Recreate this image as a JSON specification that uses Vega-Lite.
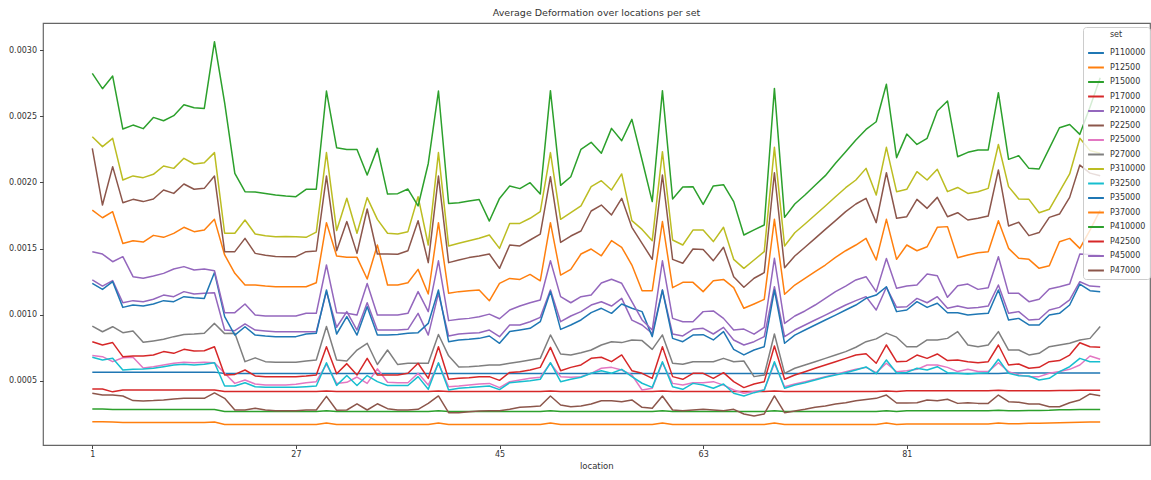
{
"$schema":"https://vega.github.io/schema/vega-lite/v6.json",
"width":1107,"height":422,
"autosize":{"type":"none"},
"padding":{"left":43,"top":23,"right":1,"bottom":35},
"background":"white",
"config":{"font":"DejaVu Sans","view":{"stroke":"#666","strokeWidth":1.2}},
"title":{"text":"Average Deformation over locations per set","fontSize":9.5,"fontWeight":"normal","color":"#333","offset":6,"font":"DejaVu Sans"},
"data":{"values":[
{"location":"1","P110000":0.000567,"P12500":0.000193,"P15000":0.000288,"P17000":0.00044,"P210000":0.001263,"P22500":0.000407,"P25000":0.000692,"P27000":0.000915,"P310000":0.002345,"P32500":0.000679,"P35000":0.001238,"P37000":0.001791,"P410000":0.002824,"P42500":0.000797,"P45000":0.001476,"P47000":0.002257},
{"location":"10","P110000":0.000567,"P12500":0.000192,"P15000":0.000288,"P17000":0.00044,"P210000":0.001217,"P22500":0.000394,"P25000":0.000684,"P27000":0.000872,"P310000":0.00227,"P32500":0.000659,"P35000":0.001192,"P37000":0.001733,"P410000":0.002708,"P42500":0.000772,"P45000":0.001459,"P47000":0.001829},
{"location":"100","P110000":0.000567,"P12500":0.00019,"P15000":0.000284,"P17000":0.000418,"P210000":0.001258,"P22500":0.000394,"P25000":0.000646,"P27000":0.00091,"P310000":0.002333,"P32500":0.000671,"P35000":0.00125,"P37000":0.001779,"P410000":0.002803,"P42500":0.00079,"P45000":0.001401,"P47000":0.002119},
{"location":"11","P110000":0.000567,"P12500":0.000187,"P15000":0.000284,"P17000":0.000432,"P210000":0.001091,"P22500":0.000387,"P25000":0.000676,"P27000":0.000865,"P310000":0.002018,"P32500":0.000583,"P35000":0.001056,"P37000":0.001539,"P410000":0.002403,"P42500":0.000684,"P45000":0.001439,"P47000":0.001847},
{"location":"12","P110000":0.000567,"P12500":0.000187,"P15000":0.000284,"P17000":0.000432,"P210000":0.001107,"P22500":0.000352,"P25000":0.00068,"P27000":0.000878,"P310000":0.002049,"P32500":0.000588,"P35000":0.001074,"P37000":0.001559,"P410000":0.002433,"P42500":0.000689,"P45000":0.001288,"P47000":0.001872},
{"location":"13","P110000":0.000567,"P12500":0.000187,"P15000":0.000284,"P17000":0.000432,"P210000":0.001099,"P22500":0.000349,"P25000":0.000598,"P27000":0.000792,"P310000":0.002036,"P32500":0.00059,"P35000":0.001066,"P37000":0.001549,"P410000":0.002406,"P42500":0.000689,"P45000":0.001276,"P47000":0.001855},
{"location":"14","P110000":0.000567,"P12500":0.000187,"P15000":0.000284,"P17000":0.000432,"P210000":0.001117,"P22500":0.000352,"P25000":0.000608,"P27000":0.000803,"P310000":0.002061,"P32500":0.000596,"P35000":0.001082,"P37000":0.0016,"P410000":0.002491,"P42500":0.000697,"P45000":0.001293,"P47000":0.001875},
{"location":"15","P110000":0.000567,"P12500":0.000187,"P15000":0.000284,"P17000":0.000432,"P210000":0.001149,"P22500":0.000357,"P25000":0.000621,"P27000":0.000815,"P310000":0.002124,"P32500":0.000608,"P35000":0.001107,"P37000":0.001585,"P410000":0.002466,"P42500":0.000722,"P45000":0.001313,"P47000":0.001943},
{"location":"16","P110000":0.000567,"P12500":0.000187,"P15000":0.000284,"P17000":0.000432,"P210000":0.001137,"P22500":0.000364,"P25000":0.000634,"P27000":0.000835,"P310000":0.002106,"P32500":0.000621,"P35000":0.001099,"P37000":0.001615,"P410000":0.002504,"P42500":0.000709,"P45000":0.001346,"P47000":0.001917},
{"location":"17","P110000":0.000567,"P12500":0.000187,"P15000":0.000284,"P17000":0.000432,"P210000":0.001175,"P22500":0.000369,"P25000":0.000641,"P27000":0.000852,"P310000":0.002182,"P32500":0.000626,"P35000":0.001137,"P37000":0.001661,"P410000":0.002587,"P42500":0.000739,"P45000":0.001364,"P47000":0.001988},
{"location":"18","P110000":0.000567,"P12500":0.000187,"P15000":0.000284,"P17000":0.000432,"P210000":0.001157,"P22500":0.000369,"P25000":0.000638,"P27000":0.000855,"P310000":0.002139,"P32500":0.000621,"P35000":0.001129,"P37000":0.001628,"P410000":0.002564,"P42500":0.000727,"P45000":0.001338,"P47000":0.001948},
{"location":"19","P110000":0.000567,"P12500":0.000187,"P15000":0.000284,"P17000":0.000432,"P210000":0.001162,"P22500":0.000369,"P25000":0.000641,"P27000":0.00086,"P310000":0.002149,"P32500":0.000626,"P35000":0.001124,"P37000":0.00164,"P410000":0.002559,"P42500":0.000729,"P45000":0.001346,"P47000":0.001955},
{"location":"2","P110000":0.000567,"P12500":0.00019,"P15000":0.000284,"P17000":0.000432,"P210000":0.001167,"P22500":0.00041,"P25000":0.000638,"P27000":0.000935,"P310000":0.002225,"P32500":0.000638,"P35000":0.00132,"P37000":0.001721,"P410000":0.003063,"P42500":0.000759,"P45000":0.001333,"P47000":0.002048},
{"location":"20","P110000":0.000557,"P12500":0.000172,"P15000":0.00027,"P17000":0.00042,"P210000":0.000885,"P22500":0.000369,"P25000":0.000558,"P27000":0.000858,"P310000":0.001616,"P32500":0.000462,"P35000":0.000986,"P37000":0.001452,"P410000":0.0026,"P42500":0.000545,"P45000":0.001016,"P47000":0.001477},
{"location":"21","P110000":0.000557,"P12500":0.000172,"P15000":0.00027,"P17000":0.00042,"P210000":0.00088,"P22500":0.000281,"P25000":0.000482,"P27000":0.00086,"P310000":0.001616,"P32500":0.000462,"P35000":0.000847,"P37000":0.001313,"P410000":0.002068,"P42500":0.00055,"P45000":0.001016,"P47000":0.001477},
{"location":"22","P110000":0.000557,"P12500":0.000172,"P15000":0.00027,"P17000":0.00042,"P210000":0.000931,"P22500":0.000281,"P25000":0.000508,"P27000":0.000646,"P310000":0.001716,"P32500":0.000487,"P35000":0.00091,"P37000":0.001225,"P410000":0.00193,"P42500":0.000583,"P45000":0.001082,"P47000":0.001577},
{"location":"23","P110000":0.000557,"P12500":0.000172,"P15000":0.00027,"P17000":0.00042,"P210000":0.000885,"P22500":0.000294,"P25000":0.000477,"P27000":0.000675,"P310000":0.00161,"P32500":0.000457,"P35000":0.000847,"P37000":0.001225,"P410000":0.001928,"P42500":0.000538,"P45000":0.000998,"P47000":0.001464},
{"location":"24","P110000":0.000557,"P12500":0.000172,"P15000":0.00027,"P17000":0.00042,"P210000":0.000878,"P22500":0.000281,"P25000":0.000469,"P27000":0.000646,"P310000":0.001597,"P32500":0.000452,"P35000":0.00084,"P37000":0.001217,"P410000":0.001917,"P42500":0.000533,"P45000":0.000991,"P47000":0.001449},
{"location":"25","P110000":0.000557,"P12500":0.000172,"P15000":0.00027,"P17000":0.00042,"P210000":0.000872,"P22500":0.000276,"P25000":0.000469,"P27000":0.000641,"P310000":0.00159,"P32500":0.000452,"P35000":0.000835,"P37000":0.001212,"P410000":0.001905,"P42500":0.000533,"P45000":0.000991,"P47000":0.001441},
{"location":"26","P110000":0.000557,"P12500":0.000172,"P15000":0.00027,"P17000":0.00042,"P210000":0.000872,"P22500":0.000276,"P25000":0.000469,"P27000":0.000641,"P310000":0.001592,"P32500":0.000452,"P35000":0.000835,"P37000":0.001212,"P410000":0.001897,"P42500":0.000533,"P45000":0.000991,"P47000":0.001439},
{"location":"27","P110000":0.000557,"P12500":0.000172,"P15000":0.00027,"P17000":0.00042,"P210000":0.000872,"P22500":0.000276,"P25000":0.000475,"P27000":0.000641,"P310000":0.00159,"P32500":0.000452,"P35000":0.000835,"P37000":0.001212,"P410000":0.001892,"P42500":0.000533,"P45000":0.000991,"P47000":0.001439},
{"location":"28","P110000":0.000557,"P12500":0.000172,"P15000":0.00027,"P17000":0.00042,"P210000":0.000872,"P22500":0.000281,"P25000":0.000487,"P27000":0.000651,"P310000":0.001585,"P32500":0.000457,"P35000":0.000855,"P37000":0.001212,"P410000":0.001948,"P42500":0.000538,"P45000":0.001011,"P47000":0.001477},
{"location":"29","P110000":0.000557,"P12500":0.000172,"P15000":0.00027,"P17000":0.00042,"P210000":0.000872,"P22500":0.000281,"P25000":0.000495,"P27000":0.000659,"P310000":0.001625,"P32500":0.000462,"P35000":0.00086,"P37000":0.001242,"P410000":0.001948,"P42500":0.000545,"P45000":0.001011,"P47000":0.001482},
{"location":"3","P110000":0.000557,"P12500":0.000182,"P15000":0.000275,"P17000":0.000425,"P210000":0.001175,"P22500":0.000384,"P25000":0.000628,"P27000":0.000912,"P310000":0.002225,"P32500":0.000638,"P35000":0.001187,"P37000":0.001696,"P410000":0.00269,"P42500":0.000759,"P45000":0.001376,"P47000":0.002048},
{"location":"30","P110000":0.000557,"P12500":0.000172,"P15000":0.00027,"P17000":0.00042,"P210000":0.000906,"P22500":0.000279,"P25000":0.000482,"P27000":0.000659,"P310000":0.001636,"P32500":0.000467,"P35000":0.000855,"P37000":0.001444,"P410000":0.002262,"P42500":0.000555,"P45000":0.001016,"P47000":0.001484},
{"location":"31","P110000":0.000557,"P12500":0.000172,"P15000":0.00027,"P17000":0.00042,"P210000":0.001024,"P22500":0.000281,"P25000":0.00049,"P27000":0.000651,"P310000":0.00188,"P32500":0.000541,"P35000":0.000986,"P37000":0.001434,"P410000":0.002249,"P42500":0.000631,"P45000":0.001011,"P47000":0.001704},
{"location":"32","P110000":0.000557,"P12500":0.000172,"P15000":0.00027,"P17000":0.00042,"P210000":0.000885,"P22500":0.000328,"P25000":0.00053,"P27000":0.000734,"P310000":0.001616,"P32500":0.000466,"P35000":0.000847,"P37000":0.001434,"P410000":0.002249,"P42500":0.000545,"P45000":0.000998,"P47000":0.001464},
{"location":"33","P110000":0.000557,"P12500":0.000172,"P15000":0.00027,"P17000":0.00042,"P210000":0.001091,"P22500":0.000281,"P25000":0.000482,"P27000":0.000785,"P310000":0.001885,"P32500":0.000541,"P35000":0.001061,"P37000":0.00127,"P410000":0.002056,"P42500":0.000671,"P45000":0.001237,"P47000":0.001799},
{"location":"34","P110000":0.000557,"P12500":0.000172,"P15000":0.00027,"P17000":0.00042,"P210000":0.000885,"P22500":0.000328,"P25000":0.000592,"P27000":0.000625,"P310000":0.001721,"P32500":0.000495,"P35000":0.000847,"P37000":0.001527,"P410000":0.002257,"P42500":0.000545,"P45000":0.000998,"P47000":0.001459},
{"location":"35","P110000":0.000557,"P12500":0.000172,"P15000":0.00027,"P17000":0.00042,"P210000":0.000885,"P22500":0.000291,"P25000":0.00049,"P27000":0.000734,"P310000":0.001616,"P32500":0.000466,"P35000":0.000847,"P37000":0.001225,"P410000":0.001912,"P42500":0.000545,"P45000":0.000998,"P47000":0.001459},
{"location":"36","P110000":0.000557,"P12500":0.000172,"P15000":0.00027,"P17000":0.00042,"P210000":0.000885,"P22500":0.000281,"P25000":0.000487,"P27000":0.000624,"P310000":0.00161,"P32500":0.000466,"P35000":0.000852,"P37000":0.001225,"P410000":0.001915,"P42500":0.000545,"P45000":0.000998,"P47000":0.001457},
{"location":"37","P110000":0.000557,"P12500":0.000172,"P15000":0.00027,"P17000":0.00042,"P210000":0.00089,"P22500":0.000281,"P25000":0.000487,"P27000":0.000634,"P310000":0.001628,"P32500":0.000466,"P35000":0.00086,"P37000":0.001242,"P410000":0.00195,"P42500":0.000558,"P45000":0.001011,"P47000":0.001484},
{"location":"38","P110000":0.000557,"P12500":0.000172,"P15000":0.00027,"P17000":0.00042,"P210000":0.001011,"P22500":0.000286,"P25000":0.000558,"P27000":0.000634,"P310000":0.001892,"P32500":0.000533,"P35000":0.000865,"P37000":0.001343,"P410000":0.001822,"P42500":0.000634,"P45000":0.001175,"P47000":0.001711},
{"location":"39","P110000":0.000557,"P12500":0.000172,"P15000":0.00027,"P17000":0.00042,"P210000":0.000847,"P22500":0.000331,"P25000":0.000469,"P27000":0.000634,"P310000":0.001527,"P32500":0.000437,"P35000":0.000935,"P37000":0.001157,"P410000":0.002143,"P42500":0.00052,"P45000":0.001024,"P47000":0.001394},
{"location":"4","P110000":0.000557,"P12500":0.000182,"P15000":0.000275,"P17000":0.000425,"P210000":0.001162,"P22500":0.000387,"P25000":0.000634,"P27000":0.000851,"P310000":0.002225,"P32500":0.000638,"P35000":0.001187,"P37000":0.001696,"P410000":0.00269,"P42500":0.000759,"P45000":0.001408,"P47000":0.002048},
{"location":"40","P110000":0.000557,"P12500":0.000172,"P15000":0.00027,"P17000":0.00042,"P210000":0.00084,"P22500":0.000261,"P25000":0.000457,"P27000":0.00069,"P310000":0.00152,"P32500":0.000432,"P35000":0.000797,"P37000":0.001162,"P410000":0.001841,"P42500":0.000513,"P45000":0.000956,"P47000":0.001394},
{"location":"41","P110000":0.000557,"P12500":0.000172,"P15000":0.00027,"P17000":0.00042,"P210000":0.000855,"P22500":0.000261,"P25000":0.000462,"P27000":0.000606,"P310000":0.00154,"P32500":0.000445,"P35000":0.00081,"P37000":0.001175,"P410000":0.001846,"P42500":0.00052,"P45000":0.000966,"P47000":0.001414},
{"location":"42","P110000":0.000557,"P12500":0.000172,"P15000":0.00027,"P17000":0.00042,"P210000":0.00086,"P22500":0.000268,"P25000":0.000469,"P27000":0.000608,"P310000":0.00156,"P32500":0.00045,"P35000":0.000815,"P37000":0.001182,"P410000":0.001859,"P42500":0.000525,"P45000":0.000973,"P47000":0.001432},
{"location":"43","P110000":0.000557,"P12500":0.000172,"P15000":0.00027,"P17000":0.00042,"P210000":0.000865,"P22500":0.000273,"P25000":0.000477,"P27000":0.000613,"P310000":0.001578,"P32500":0.000457,"P35000":0.000822,"P37000":0.001187,"P410000":0.001871,"P42500":0.000533,"P45000":0.000986,"P47000":0.001444},
{"location":"44","P110000":0.000557,"P12500":0.000172,"P15000":0.00027,"P17000":0.00042,"P210000":0.000885,"P22500":0.000276,"P25000":0.000482,"P27000":0.000621,"P310000":0.001603,"P32500":0.000462,"P35000":0.00084,"P37000":0.001106,"P410000":0.001708,"P42500":0.000533,"P45000":0.001005,"P47000":0.001459},
{"location":"45","P110000":0.000557,"P12500":0.000172,"P15000":0.00027,"P17000":0.00042,"P210000":0.000835,"P22500":0.000276,"P25000":0.00045,"P27000":0.000621,"P310000":0.001502,"P32500":0.000435,"P35000":0.000785,"P37000":0.001237,"P410000":0.001879,"P42500":0.000505,"P45000":0.00097,"P47000":0.001351},
{"location":"46","P110000":0.000557,"P12500":0.000172,"P15000":0.00027,"P17000":0.00042,"P210000":0.000923,"P22500":0.000286,"P25000":0.000495,"P27000":0.000634,"P310000":0.00169,"P32500":0.000487,"P35000":0.000873,"P37000":0.001275,"P410000":0.001973,"P42500":0.000565,"P45000":0.001036,"P47000":0.001527},
{"location":"47","P110000":0.000557,"P12500":0.000172,"P15000":0.00027,"P17000":0.00042,"P210000":0.000923,"P22500":0.000301,"P25000":0.000508,"P27000":0.000646,"P310000":0.00169,"P32500":0.000495,"P35000":0.000885,"P37000":0.001267,"P410000":0.001953,"P42500":0.00057,"P45000":0.001066,"P47000":0.00152},
{"location":"48","P110000":0.000557,"P12500":0.000172,"P15000":0.00027,"P17000":0.00042,"P210000":0.000948,"P22500":0.000306,"P25000":0.00052,"P27000":0.000659,"P310000":0.001729,"P32500":0.000502,"P35000":0.000898,"P37000":0.001305,"P410000":0.001998,"P42500":0.000583,"P45000":0.001091,"P47000":0.001565},
{"location":"49","P110000":0.000557,"P12500":0.000172,"P15000":0.00027,"P17000":0.00042,"P210000":0.000981,"P22500":0.000311,"P25000":0.000528,"P27000":0.000671,"P310000":0.001779,"P32500":0.000513,"P35000":0.000948,"P37000":0.001257,"P410000":0.001912,"P42500":0.000603,"P45000":0.001112,"P47000":0.00161},
{"location":"5","P110000":0.000557,"P12500":0.000182,"P15000":0.000275,"P17000":0.000425,"P210000":0.001187,"P22500":0.000387,"P25000":0.000634,"P27000":0.000848,"P310000":0.002225,"P32500":0.000638,"P35000":0.001175,"P37000":0.001696,"P410000":0.002693,"P42500":0.000754,"P45000":0.001408,"P47000":0.002043},
{"location":"50","P110000":0.000557,"P12500":0.000172,"P15000":0.00027,"P17000":0.00042,"P210000":0.000948,"P22500":0.000319,"P25000":0.000533,"P27000":0.000704,"P310000":0.001721,"P32500":0.000495,"P35000":0.00089,"P37000":0.0013,"P410000":0.001978,"P42500":0.000578,"P45000":0.001137,"P47000":0.001547},
{"location":"51","P110000":0.000557,"P12500":0.000172,"P15000":0.00027,"P17000":0.00042,"P210000":0.000991,"P22500":0.000306,"P25000":0.000528,"P27000":0.000697,"P310000":0.001771,"P32500":0.000513,"P35000":0.000923,"P37000":0.001343,"P410000":0.002043,"P42500":0.000603,"P45000":0.001091,"P47000":0.001595},
{"location":"52","P110000":0.000557,"P12500":0.000172,"P15000":0.00027,"P17000":0.00042,"P210000":0.001024,"P22500":0.000311,"P25000":0.000533,"P27000":0.000714,"P310000":0.001822,"P32500":0.000528,"P35000":0.000961,"P37000":0.001459,"P410000":0.00225,"P42500":0.000621,"P45000":0.001137,"P47000":0.001633},
{"location":"53","P110000":0.000557,"P12500":0.000172,"P15000":0.00027,"P17000":0.00042,"P210000":0.001074,"P22500":0.000326,"P25000":0.000558,"P27000":0.000734,"P310000":0.001968,"P32500":0.000558,"P35000":0.001016,"P37000":0.001497,"P410000":0.002303,"P42500":0.000671,"P45000":0.001149,"P47000":0.001784},
{"location":"54","P110000":0.000557,"P12500":0.000172,"P15000":0.00027,"P17000":0.00042,"P210000":0.001099,"P22500":0.000351,"P25000":0.000596,"P27000":0.000772,"P310000":0.002013,"P32500":0.000578,"P35000":0.001049,"P37000":0.001446,"P410000":0.00222,"P42500":0.000679,"P45000":0.00124,"P47000":0.001829},
{"location":"55","P110000":0.000557,"P12500":0.000172,"P15000":0.00027,"P17000":0.00042,"P210000":0.001066,"P22500":0.000351,"P25000":0.000603,"P27000":0.000797,"P310000":0.001943,"P32500":0.000558,"P35000":0.001011,"P37000":0.00156,"P410000":0.002408,"P42500":0.000646,"P45000":0.001268,"P47000":0.001754},
{"location":"56","P110000":0.000557,"P12500":0.000172,"P15000":0.00027,"P17000":0.00042,"P210000":0.001124,"P22500":0.000344,"P25000":0.000583,"P27000":0.00079,"P310000":0.002064,"P32500":0.000588,"P35000":0.001082,"P37000":0.00151,"P410000":0.002315,"P42500":0.000697,"P45000":0.001238,"P47000":0.00188},
{"location":"57","P110000":0.000557,"P12500":0.000172,"P15000":0.00027,"P17000":0.00042,"P210000":0.00096,"P22500":0.000357,"P25000":0.000545,"P27000":0.00081,"P310000":0.001711,"P32500":0.000533,"P35000":0.001049,"P37000":0.001376,"P410000":0.002476,"P42500":0.000578,"P45000":0.001099,"P47000":0.001661},
{"location":"58","P110000":0.000557,"P12500":0.000172,"P15000":0.00027,"P17000":0.00042,"P210000":0.000923,"P22500":0.000301,"P25000":0.000432,"P27000":0.000805,"P310000":0.001645,"P32500":0.000483,"P35000":0.001024,"P37000":0.001182,"P410000":0.002169,"P42500":0.000558,"P45000":0.000961,"P47000":0.00154},
{"location":"59","P110000":0.000557,"P12500":0.000172,"P15000":0.00027,"P17000":0.00042,"P210000":0.00086,"P22500":0.000294,"P25000":0.000445,"P27000":0.000739,"P310000":0.00156,"P32500":0.000452,"P35000":0.000835,"P37000":0.001182,"P410000":0.001855,"P42500":0.00052,"P45000":0.000885,"P47000":0.001419},
{"location":"6","P110000":0.000557,"P12500":0.000182,"P15000":0.000275,"P17000":0.000425,"P210000":0.001187,"P22500":0.000387,"P25000":0.000638,"P27000":0.000848,"P310000":0.002232,"P32500":0.000646,"P35000":0.001187,"P37000":0.001704,"P410000":0.002693,"P42500":0.000759,"P45000":0.001408,"P47000":0.002056},
{"location":"60","P110000":0.000557,"P12500":0.000172,"P15000":0.00027,"P17000":0.00042,"P210000":0.000855,"P22500":0.000281,"P25000":0.000482,"P27000":0.000634,"P310000":0.001565,"P32500":0.000457,"P35000":0.000822,"P37000":0.001205,"P410000":0.001875,"P42500":0.000533,"P45000":0.000973,"P47000":0.001419},
{"location":"61","P110000":0.000557,"P12500":0.000172,"P15000":0.00027,"P17000":0.00042,"P210000":0.00084,"P22500":0.000276,"P25000":0.00047,"P27000":0.000626,"P310000":0.001527,"P32500":0.000437,"P35000":0.000797,"P37000":0.001245,"P410000":0.001965,"P42500":0.000513,"P45000":0.000948,"P47000":0.001389},
{"location":"62","P110000":0.000557,"P12500":0.000172,"P15000":0.00027,"P17000":0.00042,"P210000":0.00089,"P22500":0.000281,"P25000":0.000487,"P27000":0.000646,"P310000":0.00164,"P32500":0.000482,"P35000":0.000847,"P37000":0.001245,"P410000":0.001968,"P42500":0.000558,"P45000":0.000948,"P47000":0.001497},
{"location":"63","P110000":0.000557,"P12500":0.000172,"P15000":0.00027,"P17000":0.00042,"P210000":0.000898,"P22500":0.000286,"P25000":0.000487,"P27000":0.000646,"P310000":0.00164,"P32500":0.00047,"P35000":0.00085,"P37000":0.001175,"P410000":0.001834,"P42500":0.000558,"P45000":0.001024,"P47000":0.001494},
{"location":"64","P110000":0.000557,"P12500":0.000172,"P15000":0.00027,"P17000":0.00042,"P210000":0.000855,"P22500":0.000281,"P25000":0.000495,"P27000":0.000646,"P310000":0.001553,"P32500":0.000445,"P35000":0.00081,"P37000":0.001257,"P410000":0.001973,"P42500":0.00052,"P45000":0.001029,"P47000":0.001409},
{"location":"65","P110000":0.000557,"P12500":0.000172,"P15000":0.00027,"P17000":0.00042,"P210000":0.000905,"P22500":0.000276,"P25000":0.000469,"P27000":0.000671,"P310000":0.001661,"P32500":0.000477,"P35000":0.000873,"P37000":0.001267,"P410000":0.001983,"P42500":0.000563,"P45000":0.000973,"P47000":0.00151},
{"location":"66","P110000":0.000557,"P12500":0.000172,"P15000":0.00027,"P17000":0.00042,"P210000":0.00081,"P22500":0.000286,"P25000":0.000432,"P27000":0.000646,"P310000":0.001419,"P32500":0.000407,"P35000":0.000739,"P37000":0.001205,"P410000":0.001855,"P42500":0.000495,"P45000":0.000885,"P47000":0.001288},
{"location":"67","P110000":0.000557,"P12500":0.000172,"P15000":0.00027,"P17000":0.00042,"P210000":0.000772,"P22500":0.000251,"P25000":0.000407,"P27000":0.000651,"P310000":0.001351,"P32500":0.000387,"P35000":0.000697,"P37000":0.001049,"P410000":0.001603,"P42500":0.00045,"P45000":0.000892,"P47000":0.001208},
{"location":"68","P110000":0.000557,"P12500":0.000172,"P15000":0.00027,"P17000":0.00042,"P210000":0.000797,"P22500":0.000236,"P25000":0.00042,"P27000":0.000533,"P310000":0.001414,"P32500":0.000412,"P35000":0.000734,"P37000":0.001082,"P410000":0.001641,"P42500":0.000477,"P45000":0.000854,"P47000":0.001276},
{"location":"69","P110000":0.000557,"P12500":0.000172,"P15000":0.00027,"P17000":0.00042,"P210000":0.000835,"P22500":0.000251,"P25000":0.000432,"P27000":0.000545,"P310000":0.001477,"P32500":0.000432,"P35000":0.000759,"P37000":0.001117,"P410000":0.001678,"P42500":0.000495,"P45000":0.000905,"P47000":0.001318},
{"location":"7","P110000":0.000557,"P12500":0.000182,"P15000":0.000275,"P17000":0.000425,"P210000":0.001212,"P22500":0.000387,"P25000":0.000634,"P27000":0.000855,"P310000":0.002265,"P32500":0.000646,"P35000":0.001187,"P37000":0.001721,"P410000":0.00271,"P42500":0.000764,"P45000":0.001427,"P47000":0.002073},
{"location":"70","P110000":0.000557,"P12500":0.000172,"P15000":0.00027,"P17000":0.00042,"P210000":0.000835,"P22500":0.000261,"P25000":0.000457,"P27000":0.000558,"P310000":0.00152,"P32500":0.000445,"P35000":0.000785,"P37000":0.001155,"P410000":0.001736,"P42500":0.000513,"P45000":0.000935,"P47000":0.001356},
{"location":"71","P110000":0.000557,"P12500":0.000172,"P15000":0.00027,"P17000":0.00042,"P210000":0.000885,"P22500":0.000273,"P25000":0.000477,"P27000":0.000596,"P310000":0.00162,"P32500":0.00047,"P35000":0.000847,"P37000":0.001225,"P410000":0.001837,"P42500":0.000545,"P45000":0.000991,"P47000":0.001444},
{"location":"72","P110000":0.000557,"P12500":0.000172,"P15000":0.00027,"P17000":0.00042,"P210000":0.000923,"P22500":0.000286,"P25000":0.000495,"P27000":0.000621,"P310000":0.001686,"P32500":0.000487,"P35000":0.000885,"P37000":0.001275,"P410000":0.001905,"P42500":0.00057,"P45000":0.001029,"P47000":0.00151},
{"location":"73","P110000":0.000557,"P12500":0.000172,"P15000":0.00027,"P17000":0.00042,"P210000":0.000961,"P22500":0.000301,"P25000":0.000513,"P27000":0.000646,"P310000":0.001754,"P32500":0.000508,"P35000":0.000923,"P37000":0.001326,"P410000":0.001978,"P42500":0.000596,"P45000":0.001074,"P47000":0.001577},
{"location":"74","P110000":0.000557,"P12500":0.000172,"P15000":0.00027,"P17000":0.00042,"P210000":0.000998,"P22500":0.000311,"P25000":0.000533,"P27000":0.000671,"P310000":0.001822,"P32500":0.000528,"P35000":0.000961,"P37000":0.001376,"P410000":0.002051,"P42500":0.000621,"P45000":0.001124,"P47000":0.001645},
{"location":"75","P110000":0.000557,"P12500":0.000172,"P15000":0.00027,"P17000":0.00042,"P210000":0.001036,"P22500":0.000326,"P25000":0.00055,"P27000":0.000697,"P310000":0.001892,"P32500":0.000545,"P35000":0.000998,"P37000":0.001434,"P410000":0.002144,"P42500":0.000646,"P45000":0.001175,"P47000":0.001711},
{"location":"76","P110000":0.000557,"P12500":0.000172,"P15000":0.00027,"P17000":0.00042,"P210000":0.001074,"P22500":0.000336,"P25000":0.00057,"P27000":0.000722,"P310000":0.00196,"P32500":0.000563,"P35000":0.001036,"P37000":0.001484,"P410000":0.002232,"P42500":0.000671,"P45000":0.001217,"P47000":0.001779},
{"location":"77","P110000":0.000557,"P12500":0.000172,"P15000":0.00027,"P17000":0.00042,"P210000":0.001107,"P22500":0.000351,"P25000":0.000588,"P27000":0.000755,"P310000":0.002018,"P32500":0.000583,"P35000":0.001074,"P37000":0.001527,"P410000":0.00232,"P42500":0.000697,"P45000":0.001263,"P47000":0.001837},
{"location":"78","P110000":0.000557,"P12500":0.000172,"P15000":0.00027,"P17000":0.00042,"P210000":0.001137,"P22500":0.000361,"P25000":0.000603,"P27000":0.000797,"P310000":0.002106,"P32500":0.000606,"P35000":0.001125,"P37000":0.001577,"P410000":0.0024,"P42500":0.000706,"P45000":0.001288,"P47000":0.00188},
{"location":"79","P110000":0.000557,"P12500":0.000172,"P15000":0.00027,"P17000":0.00042,"P210000":0.001036,"P22500":0.000369,"P25000":0.000563,"P27000":0.000818,"P310000":0.001905,"P32500":0.000555,"P35000":0.001149,"P37000":0.001414,"P410000":0.002458,"P42500":0.000634,"P45000":0.001175,"P47000":0.001696},
{"location":"8","P110000":0.000557,"P12500":0.000182,"P15000":0.000275,"P17000":0.000425,"P210000":0.001208,"P22500":0.000394,"P25000":0.000634,"P27000":0.000862,"P310000":0.002265,"P32500":0.000659,"P35000":0.001212,"P37000":0.001721,"P410000":0.002741,"P42500":0.000772,"P45000":0.001425,"P47000":0.002073},
{"location":"80","P110000":0.000557,"P12500":0.000172,"P15000":0.00027,"P17000":0.00042,"P210000":0.001057,"P22500":0.000334,"P25000":0.00057,"P27000":0.000831,"P310000":0.00193,"P32500":0.00056,"P35000":0.001024,"P37000":0.001419,"P410000":0.002187,"P42500":0.000646,"P45000":0.0012,"P47000":0.001729},
{"location":"81","P110000":0.000557,"P12500":0.000175,"P15000":0.000275,"P17000":0.000426,"P210000":0.001061,"P22500":0.000333,"P25000":0.000577,"P27000":0.000759,"P310000":0.001948,"P32500":0.000565,"P35000":0.001036,"P37000":0.001527,"P410000":0.002365,"P42500":0.00065,"P45000":0.001217,"P47000":0.001741},
{"location":"82","P110000":0.000557,"P12500":0.000175,"P15000":0.000275,"P17000":0.000426,"P210000":0.001124,"P22500":0.000336,"P25000":0.000588,"P27000":0.000759,"P310000":0.002081,"P32500":0.000596,"P35000":0.001099,"P37000":0.001484,"P410000":0.002287,"P42500":0.000696,"P45000":0.001225,"P47000":0.001872},
{"location":"83","P110000":0.000557,"P12500":0.000175,"P15000":0.000275,"P17000":0.000426,"P210000":0.001091,"P22500":0.000357,"P25000":0.000621,"P27000":0.00081,"P310000":0.002018,"P32500":0.000583,"P35000":0.001056,"P37000":0.001514,"P410000":0.002333,"P42500":0.000671,"P45000":0.001308,"P47000":0.001804},
{"location":"84","P110000":0.000557,"P12500":0.000175,"P15000":0.000275,"P17000":0.000426,"P210000":0.001137,"P22500":0.000351,"P25000":0.000621,"P27000":0.00081,"P310000":0.002099,"P32500":0.000608,"P35000":0.001087,"P37000":0.001661,"P410000":0.002539,"P42500":0.000704,"P45000":0.001295,"P47000":0.001887},
{"location":"85","P110000":0.000557,"P12500":0.000175,"P15000":0.000275,"P17000":0.000426,"P210000":0.001049,"P22500":0.000362,"P25000":0.000603,"P27000":0.000822,"P310000":0.00193,"P32500":0.000563,"P35000":0.001016,"P37000":0.001666,"P410000":0.002615,"P42500":0.000654,"P45000":0.001132,"P47000":0.001741},
{"location":"86","P110000":0.000557,"P12500":0.000175,"P15000":0.000275,"P17000":0.000426,"P210000":0.001066,"P22500":0.000331,"P25000":0.000571,"P27000":0.000873,"P310000":0.001962,"P32500":0.000558,"P35000":0.001016,"P37000":0.001431,"P410000":0.002194,"P42500":0.000659,"P45000":0.00122,"P47000":0.001771},
{"location":"87","P110000":0.000557,"P12500":0.000175,"P15000":0.000275,"P17000":0.000426,"P210000":0.001049,"P22500":0.000336,"P25000":0.000588,"P27000":0.000772,"P310000":0.001917,"P32500":0.000553,"P35000":0.000998,"P37000":0.001452,"P410000":0.002227,"P42500":0.000646,"P45000":0.001232,"P47000":0.001716},
{"location":"88","P110000":0.000557,"P12500":0.000175,"P15000":0.000275,"P17000":0.000426,"P210000":0.001056,"P22500":0.000331,"P25000":0.000571,"P27000":0.000759,"P310000":0.00193,"P32500":0.000558,"P35000":0.001006,"P37000":0.001469,"P410000":0.002245,"P42500":0.000638,"P45000":0.001192,"P47000":0.001729},
{"location":"89","P110000":0.000557,"P12500":0.000175,"P15000":0.000275,"P17000":0.000426,"P210000":0.001066,"P22500":0.000331,"P25000":0.000571,"P27000":0.000772,"P310000":0.001955,"P32500":0.000563,"P35000":0.001011,"P37000":0.001477,"P410000":0.002245,"P42500":0.000646,"P45000":0.001205,"P47000":0.001746},
{"location":"9","P110000":0.000557,"P12500":0.000183,"P15000":0.00028,"P17000":0.00043,"P210000":0.001225,"P22500":0.000394,"P25000":0.000638,"P27000":0.000873,"P310000":0.002286,"P32500":0.000664,"P35000":0.001187,"P37000":0.001711,"P410000":0.002678,"P42500":0.000772,"P45000":0.001439,"P47000":0.002094},
{"location":"90","P110000":0.00056,"P12500":0.000178,"P15000":0.000275,"P17000":0.000426,"P210000":0.001011,"P22500":0.000344,"P25000":0.000571,"P27000":0.000734,"P310000":0.001968,"P32500":0.000558,"P35000":0.000961,"P37000":0.001502,"P410000":0.002174,"P42500":0.000621,"P45000":0.001162,"P47000":0.001671},
{"location":"91","P110000":0.00056,"P12500":0.000178,"P15000":0.000275,"P17000":0.000426,"P210000":0.001024,"P22500":0.000339,"P25000":0.000545,"P27000":0.000734,"P310000":0.001875,"P32500":0.00054,"P35000":0.000973,"P37000":0.001427,"P410000":0.002202,"P42500":0.000628,"P45000":0.001162,"P47000":0.001699},
{"location":"92","P110000":0.00056,"P12500":0.00018,"P15000":0.000277,"P17000":0.000426,"P210000":0.000961,"P22500":0.000326,"P25000":0.000533,"P27000":0.000697,"P310000":0.001872,"P32500":0.000538,"P35000":0.000923,"P37000":0.001419,"P410000":0.002106,"P42500":0.000596,"P45000":0.001099,"P47000":0.001598},
{"location":"93","P110000":0.00056,"P12500":0.00018,"P15000":0.000277,"P17000":0.000426,"P210000":0.000966,"P22500":0.000326,"P25000":0.000533,"P27000":0.000709,"P310000":0.001771,"P32500":0.000508,"P35000":0.000923,"P37000":0.001351,"P410000":0.002101,"P42500":0.000603,"P45000":0.001117,"P47000":0.001621},
{"location":"94","P110000":0.00056,"P12500":0.000182,"P15000":0.000279,"P17000":0.000426,"P210000":0.001036,"P22500":0.000306,"P25000":0.000558,"P27000":0.000759,"P310000":0.001797,"P32500":0.00052,"P35000":0.000998,"P37000":0.001371,"P410000":0.002257,"P42500":0.000646,"P45000":0.001195,"P47000":0.001736},
{"location":"95","P110000":0.00056,"P12500":0.000184,"P15000":0.000283,"P17000":0.000428,"P210000":0.001056,"P22500":0.000306,"P25000":0.000571,"P27000":0.000772,"P310000":0.00193,"P32500":0.000571,"P35000":0.001011,"P37000":0.001552,"P410000":0.002413,"P42500":0.000654,"P45000":0.001212,"P47000":0.001761},
{"location":"96","P110000":0.00056,"P12500":0.000186,"P15000":0.000283,"P17000":0.000428,"P210000":0.001112,"P22500":0.000336,"P25000":0.000588,"P27000":0.000785,"P310000":0.002064,"P32500":0.000608,"P35000":0.001074,"P37000":0.001577,"P410000":0.002438,"P42500":0.000696,"P45000":0.001232,"P47000":0.001887},
{"location":"97","P110000":0.00056,"P12500":0.000188,"P15000":0.000284,"P17000":0.00043,"P210000":0.00125,"P22500":0.000357,"P25000":0.000621,"P27000":0.00081,"P310000":0.002333,"P32500":0.000671,"P35000":0.001232,"P37000":0.001502,"P410000":0.002363,"P42500":0.000789,"P45000":0.001459,"P47000":0.002131},
{"location":"98","P110000":0.00056,"P12500":0.00019,"P15000":0.000284,"P17000":0.00043,"P210000":0.001217,"P22500":0.000402,"P25000":0.000689,"P27000":0.000822,"P310000":0.00224,"P32500":0.000646,"P35000":0.001182,"P37000":0.00164,"P410000":0.00257,"P42500":0.000759,"P45000":0.001455,"P47000":0.00207},
{"location":"99","P110000":0.00056,"P12500":0.00019,"P15000":0.000284,"P17000":0.00043,"P210000":0.001212,"P22500":0.000389,"P25000":0.000664,"P27000":0.000911,"P310000":0.00222,"P32500":0.000646,"P35000":0.001175,"P37000":0.00179,"P410000":0.00279,"P42500":0.000754,"P45000":0.00145,"P47000":0.00205}
]},
"transform":[{"fold":["P110000","P12500","P15000","P17000","P210000","P22500","P25000","P27000","P310000","P32500","P35000","P37000","P410000","P42500","P45000","P47000"],"as":["set","deformation"]}],
"mark":{"type":"line","strokeWidth":1.5,"strokeJoin":"round","clip":true},
"encoding":{
"x":{"field":"location","type":"ordinal","sort":"ascending","scale":{"type":"point","padding":0,"range":[49.3,1057.2]},
"axis":{"values":["1","27","45","63","81"],"labelAngle":0,"title":"location","domain":false,"grid":false,"tickSize":3.5,"tickColor":"#444","labelFontSize":8,"labelColor":"#333","labelPadding":2,"titleFontSize":8.5,"titleFontWeight":"normal","titleColor":"#333","titlePadding":3}},
"y":{"field":"deformation","type":"quantitative","scale":{"domain":[0.0000166,0.003204],"nice":false,"zero":false},
"axis":{"values":[0.0005,0.001,0.0015,0.002,0.0025,0.003],"format":".4f","title":null,"domain":false,"grid":false,"tickSize":3.5,"tickColor":"#444","labelFontSize":8,"labelColor":"#333","labelPadding":3}},
"color":{"field":"set","type":"nominal",
"scale":{"domain":["P110000","P12500","P15000","P17000","P210000","P22500","P25000","P27000","P310000","P32500","P35000","P37000","P410000","P42500","P45000","P47000"],
"range":["#1f77b4","#ff7f0e","#2ca02c","#d62728","#9467bd","#8c564b","#e377c2","#7f7f7f","#bcbd22","#17becf","#1f77b4","#ff7f0e","#2ca02c","#d62728","#9467bd","#8c564b"]},
"legend":{"orient":"none","legendX":1040,"legendY":4,"title":"set","titleFontSize":8,"titleFontWeight":"normal","titleColor":"#333","titleAlign":"center","titleAnchor":"middle","titlePadding":5,"labelFontSize":8,"labelColor":"#333","symbolType":"stroke","symbolStrokeWidth":2,"symbolSize":250,"rowPadding":1.5,"padding":4,"fillColor":"rgba(255,255,255,0.8)","strokeColor":"#ccc","cornerRadius":3,"labelOffset":5}}
}
}
